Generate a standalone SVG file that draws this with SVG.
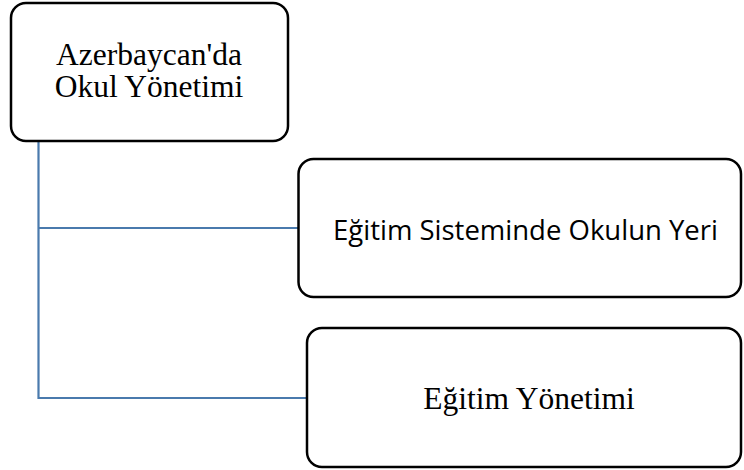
<svg xmlns="http://www.w3.org/2000/svg" width="744" height="470" viewBox="0 0 744 470">
<style>
.box{fill:#fff;stroke:#000;stroke-width:2.5}
.conn{fill:none;stroke:#4a7aad;stroke-width:2.2}
.serif{font-family:"Liberation Serif","Times New Roman",serif;font-size:31.5px;fill:#000;text-anchor:middle}
.sans{font-family:"Open Sans","Liberation Sans",sans-serif;font-size:27px;fill:#000;text-anchor:middle}
</style>
<rect width="744" height="470" fill="#fff"/>
<g id="connectors">
<path class="conn" d="M38.5 141 V398 H307 M38.5 228 H298.5"/>
</g>
<g id="node-root">
<rect class="box" x="11" y="3" width="277" height="138" rx="15"/>
<text class="serif" x="149" y="65">Azerbaycan'da</text>
<text class="serif" x="149" y="97">Okul Yönetimi</text>
</g>
<g id="node-okulun-yeri">
<rect class="box" x="298.5" y="159" width="442.5" height="138" rx="15"/>
<text class="sans" x="525.5" y="240" textLength="385" lengthAdjust="spacingAndGlyphs">Eğitim Sisteminde Okulun Yeri</text>
</g>
<g id="node-egitim-yonetimi">
<rect class="box" x="307" y="328" width="434" height="139" rx="15"/>
<text class="serif" x="529" y="409">Eğitim Yönetimi</text>
</g>
</svg>
